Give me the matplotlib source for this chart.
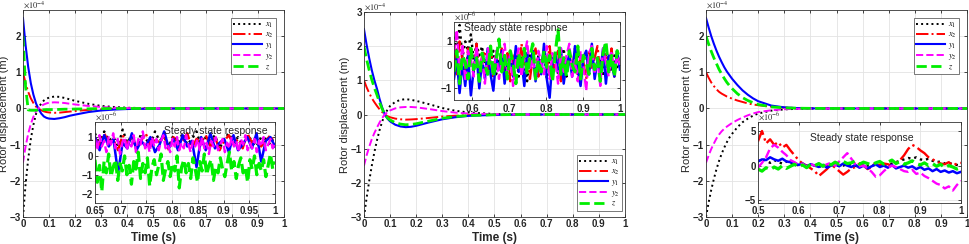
import numpy as np
import matplotlib
matplotlib.use("Agg")
import matplotlib.pyplot as plt

plt.rcParams["font.family"] = ["Liberation Sans", "DejaVu Sans"]
plt.rcParams["mathtext.fontset"] = "stix"

# time samples of the transient curves (s)
t_main = [0, 0.01, 0.02, 0.03, 0.04, 0.05, 0.06, 0.07, 0.08, 0.09, 0.10,
          0.12, 0.14, 0.16, 0.18, 0.20, 0.25, 0.30, 0.35, 0.40, 0.50,
          0.60, 0.80, 1.0]

# panel 1 (x1e-4 m)
p1_x1 = [-3, -2.1, -1.4, -0.85, -0.45, -0.15, 0.02, 0.14, 0.22, 0.27, 0.30,
         0.33, 0.32, 0.29, 0.25, 0.21, 0.13, 0.07, 0.04, 0.02, 0.005, 0, 0, 0]
p1_x2 = [1.0, 0.7, 0.46, 0.28, 0.15, 0.05, -0.01, -0.05, -0.08, -0.10, -0.11,
         -0.12, -0.115, -0.10, -0.085, -0.07, -0.04, -0.022, -0.012, -0.006, -0.002, 0, 0, 0]
p1_y1 = [2.5, 1.75, 1.15, 0.7, 0.38, 0.14, -0.02, -0.14, -0.22, -0.26, -0.28,
         -0.29, -0.27, -0.24, -0.20, -0.17, -0.10, -0.055, -0.03, -0.015, -0.004, 0, 0, 0]
p1_y2 = [-1.5, -1.05, -0.7, -0.43, -0.23, -0.08, 0.01, 0.07, 0.11, 0.14, 0.16,
         0.17, 0.165, 0.15, 0.13, 0.11, 0.07, 0.04, 0.02, 0.01, 0.003, 0, 0, 0]
p1_z = [2.0, 0.6, -0.04, -0.05, -0.05, -0.05, -0.04, -0.04, -0.035, -0.03, -0.03,
        -0.03, -0.025, -0.02, -0.02, -0.015, -0.01, -0.005, 0, 0, 0, 0, 0, 0]

# panel 2 (x1e-4 m)
p2_x1 = [-3, -2.45, -1.95, -1.5, -1.1, -0.75, -0.45, -0.2, 0.0, 0.14, 0.25,
         0.37, 0.43, 0.45, 0.43, 0.40, 0.30, 0.19, 0.11, 0.06, 0.015, 0.003, 0, 0]
p2_x2 = [1.0, 0.8, 0.63, 0.48, 0.36, 0.25, 0.15, 0.07, 0.0, -0.05, -0.08,
         -0.12, -0.14, -0.15, -0.145, -0.135, -0.10, -0.06, -0.035, -0.018, -0.005, 0, 0, 0]
p2_y1 = [2.5, 2.05, 1.65, 1.3, 1.0, 0.75, 0.45, 0.2, 0.0, -0.12, -0.2,
         -0.3, -0.35, -0.37, -0.36, -0.33, -0.23, -0.14, -0.08, -0.04, -0.01, 0, 0, 0]
p2_y2 = [-1.5, -1.2, -0.95, -0.72, -0.54, -0.38, -0.23, -0.1, 0.0, 0.07, 0.12,
         0.18, 0.21, 0.22, 0.22, 0.21, 0.16, 0.10, 0.055, 0.028, 0.008, 0, 0, 0]
p2_z = [2.0, 1.62, 1.3, 1.02, 0.78, 0.57, 0.35, 0.16, 0.0, -0.1, -0.16,
        -0.24, -0.28, -0.30, -0.29, -0.27, -0.19, -0.11, -0.06, -0.03, -0.008, 0, 0, 0]

# panel 3 (x1e-4 m)
p3_x1 = [-3, -2.6, -2.25, -1.95, -1.68, -1.45, -1.25, -1.08, -0.93, -0.8, -0.7,
         -0.52, -0.38, -0.28, -0.2, -0.14, -0.06, -0.025, -0.01, -0.004, 0, 0, 0, 0]
p3_x2 = [1.0, 0.85, 0.72, 0.62, 0.53, 0.46, 0.41, 0.37, 0.33, 0.30, 0.27,
         0.22, 0.18, 0.14, 0.11, 0.09, 0.05, 0.025, 0.012, 0.006, 0, 0, 0, 0]
p3_y1 = [2.5, 2.24, 2.0, 1.79, 1.6, 1.43, 1.28, 1.14, 1.02, 0.92, 0.82,
         0.65, 0.5, 0.38, 0.28, 0.2, 0.08, 0.03, 0.01, 0.003, 0, 0, 0, 0]
p3_y2 = [-1.5, -1.3, -1.12, -0.97, -0.83, -0.72, -0.63, -0.56, -0.5, -0.45, -0.4,
         -0.32, -0.25, -0.19, -0.14, -0.1, -0.05, -0.02, -0.01, -0.004, 0, 0, 0, 0]
p3_z = [2.0, 1.78, 1.58, 1.4, 1.24, 1.08, 0.95, 0.83, 0.72, 0.63, 0.55,
        0.41, 0.3, 0.22, 0.16, 0.11, 0.045, 0.018, 0.007, 0.003, 0, 0, 0, 0]

# steady state samples (x1e-6 m)
s1_x1 = [1.2, 0.6, 1.3, 0.8, 1.0, 0.5, 1.4, 0.7, 1.1, 0.4, 1.2, 0.9, 0.6, 1.3, 0.8, 1.0, 0.5, 1.1, 0.7, 1.2,
         0.6, 0.9, 1.3, 0.5, 1.0, 0.8, 1.1, 0.4, 0.9, 1.2, 0.7, 1.0, 0.6, 1.1, 0.8, 0.5, 1.0, 0.9, 0.6, 1.1]
s1_x2 = [1.0, 0.5, 1.2, 0.7, 0.9, 0.3, 1.1, 0.6, 1.0, 0.4, 0.8, 1.2, 0.5, 0.9, 0.7, 1.1, 0.3, 1.0, 0.6, 0.8,
         1.2, 0.4, 0.9, 0.7, 1.1, 0.5, 1.0, 0.3, 0.8, 1.1, 0.6, 0.9, 0.4, 1.2, 0.7, 1.0, 0.5, 0.8, 1.1, 0.6]
s1_y1 = [1.0, 0.3, 1.1, 0.5, 0.9, -0.9, 0.7, 0.4, 1.2, 0.3, 0.8, 0.5, 1.0, 0.2, 0.6, 1.3, 0.4, 0.9, 0.3, 1.1,
         0.5, 0.8, -0.6, 1.0, 0.3, 1.2, 0.4, 0.7, 0.9, 0.2, 1.1, 0.3, 0.6, 1.0, 0.4, 1.2, -0.3, 0.8, 1.0, 0.5]
s1_y2 = [0.9, 0.3, 1.1, 0.5, 0.8, 0.2, 1.0, 0.6, 1.2, 0.4, 0.9, 0.1, 0.7, 1.0, 0.3, 0.8, 0.5, 1.1, 0.2, 0.9,
         0.6, 1.3, 0.4, 0.7, 0.2, 1.0, 0.5, 0.9, 0.3, 0.8, 1.1, 0.4, 0.6, 0.2, 0.9, 0.5, 1.0, 0.3, 0.7, 0.4,
         1.1, 0.6, 0.2, 0.8, 0.5, 0.9, 0.3, 1.0, 0.4, 0.7, 0.1, 0.8, 0.5, 1.0, 0.3, 0.6, 0.9, 0.2, 0.7, 0.4,
         1.0, 0.5, 0.8, 0.2, 0.9, 0.6, 1.1, 0.3, 0.7, 0.4, 0.9, 0.2, 0.8, 0.5, 1.0, 0.3, 0.6, 0.9, 0.4, 0.7]
s1_z = [-0.2, -1.4, -0.5, -1.9, -0.3, -0.9, 0.1, -1.1, -0.6, -0.2, -1.3, -0.4, -0.8, 0.0, -1.0, -0.5, -1.5, -0.3, -0.7, 0.2,
        -1.2, -0.4, -0.9, -0.1, -1.6, -0.6, -0.2, -1.0, -0.5, 0.1, -1.3, -0.7, -0.3, -1.1, -0.4, -0.8, 0.0, -1.7, -0.6, -0.2,
        -0.9, -0.4, -1.2, -0.1, -0.7, -1.4, -0.3, -0.8, 0.1, -1.0, -0.5, -0.2, -1.3, -0.6, -0.9, -0.1, -0.7, -1.1, -0.4, 0.2,
        -0.8, -0.3, -1.2, -0.5, -0.1, -0.9, -0.6, -1.4, -0.2, -0.7, 0.0, -1.0, -0.4, -0.8, -0.2, -1.1, -0.5, 0.1, -0.7, -0.3]

s2_x1 = [1.2, 0.5, 1.7, 0.3, 1.0, 0.6, 1.3, 0.2, 0.9, 0.4, 0.8, -0.3, 0.5, 0.1, 0.6, -0.4, 0.3, 0.5, -0.6, 0.2,
         0.4, -0.2, 0.6, -0.5, 0.3, 0.1, -0.7, 0.5, 0.2, -0.3, 0.4, -0.1, 0.6, -0.6, 0.3, 0.0, 0.5, -0.4, 0.2, 0.7,
         -0.5, 0.3, 0.1, -0.3, 0.5, -0.6, 0.2, 0.4, -0.2, 0.6, -0.4, 0.1, 0.3, -0.5, 0.5, 0.0, -0.3, 0.4, -0.1, 0.2]
s2_x2 = [0.8, -0.4, 1.0, 0.2, -0.6, 0.7, 0.1, -0.3, 0.9, -0.5, 0.4, 0.6, -0.2, 0.8, -0.6, 0.3, 0.0, 0.7, -0.4, 0.5,
         -0.7, 0.2, 0.6, -0.3, 0.9, -0.1, 0.4, -0.6, 0.3, 0.7, -0.5, 0.1, 0.5, -0.2, 0.8, -0.4, 0.2, 0.6, -0.7, 0.3,
         0.0, 0.5, -0.3, 0.7, -0.5, 0.4, 0.1, -0.6, 0.6, -0.2, 0.3, 0.8, -0.4, 0.2, 0.5, -0.3, 0.7, -0.5, 0.4, 0.1]
s2_y1 = [-0.6, 0.3, -1.2, 0.1, -0.9, 0.4, -1.3, -0.2, 0.5, -1.0, 0.2, -0.6, 0.7, -0.4, -1.1, 0.3, -0.2, 0.6, -0.8, 0.1,
         0.4, -0.5, 0.8, -0.3, 0.2, -0.9, 0.5, -0.1, 0.6, -0.7, 0.3, -0.4, 0.9, -0.6, -1.4, 0.2, 0.5, -0.3, 0.7, -0.8,
         0.1, 0.4, -0.5, 0.8, -0.2, -0.9, 0.3, 0.6, -0.4, 0.9, -0.6, 0.2, -0.3, 0.7, -0.8, 0.4, 0.1, -0.5, 0.6, -0.2]
s2_y2 = [0.5, 1.5, -0.4, 0.9, -0.7, 0.6, 0.2, -0.5, 0.8, -0.2, 0.4, -0.8, 0.7, 0.1, -0.4, 0.6, -0.6, 0.3, 0.9, -0.3,
         0.5, -0.9, 0.2, 0.7, -0.5, 0.4, 1.0, -0.2, 0.3, -0.7, 0.6, 0.1, -0.4, 0.8, -0.6, 0.5, 0.2, -0.8, 0.7, -0.3,
         0.4, 0.9, -0.5, 0.2, -0.7, 0.6, 0.0, -1.1, 0.5, 0.8, -0.4, 0.3, -0.9, 0.7, 0.1, -0.5, 0.6, -0.3, 0.4, 0.0]
s2_z = [-0.3, 0.6, -0.8, 0.4, 0.1, -0.6, 0.7, -0.2, 0.3, -0.7, 0.5, 0.0, -0.4, 0.8, -0.5, 0.2, 1.1, -0.3, 0.4, -0.6,
        0.6, 0.1, -0.8, 0.5, -0.2, 0.7, -0.4, 0.3, 0.9, -0.6, 0.2, -0.3, 0.6, -0.1, 0.4, -0.7, 0.5, 1.5, -0.4, 0.3,
        -0.5, 0.6, 0.0, -0.3, 0.8, -0.6, 0.4, 0.1, -0.4, 0.7, -0.2, 0.3, -0.7, 0.5, 1.0, -0.3, 0.4, -0.5, 0.6, 0.2]

s3_x1 = [0.6, 1.0, 0.7, 0.4, 0.8, 0.5, 0.3, 0.6, 0.2, 0.4, 0.0, 0.2, -0.1, 0.1, 0.0, -0.2, 0.1, 0.0, 0.2, -0.1,
         0.1, 0.0, 0.3, 0.1, 0.0, -0.2, 0.1, 0.0, 0.2, -0.1, 0.0, 0.2, 0.1, 0.3, 0.5, 0.7, 0.9, 1.1, 1.0, 1.2,
         0.9, 0.8, 1.0, 0.7, 0.5, 0.6, 0.3, 0.4, 0.2, 0.1, 0.0]
s3_x2 = [3.5, 5.0, 3.2, 3.8, 3.0, 3.4, 2.6, 3.0, 2.2, 1.5, 0.8, 0.3, 0.0, -0.4, -0.8, -1.5, -1.0, -0.5, 0.2, -0.3,
         -0.8, -1.3, -0.9, -0.4, -0.2, 0.3, 0.0, -0.5, -0.2, 0.4, 0.1, 0.3, 0.2, 0.0, 0.4, 0.8, 1.5, 2.4, 3.0, 2.7,
         2.2, 1.8, 1.2, 0.9, 0.6, 0.3, 0.2, 0.5, 0.0, 0.3, 0.4]
s3_y1 = [0.6, 0.9, 0.8, 1.2, 0.9, 0.7, 1.0, 0.6, 0.5, 0.4, 0.1, 0.3, -0.1, 0.2, 0.0, -0.2, 0.1, -0.3, 0.0, 0.2,
         -0.1, 0.3, 0.0, -0.2, 0.1, -0.3, 0.0, -0.4, -0.1, 0.2, -0.2, 0.0, -0.3, 0.1, -0.4, -0.2, 0.0, -0.3, -0.1, -0.5,
         -0.2, -0.6, -0.4, -0.8, -0.5, -0.9, -0.7, -1.0, -0.8, -1.1, -0.9]
s3_y2 = [-0.3, 0.4, 1.2, 2.5, 3.0, 2.6, 2.0, 1.5, 0.8, 0.5, 0.1, 0.3, -0.2, 0.2, 0.0, 0.3, -0.1, 0.2, 0.4, 0.0,
         0.6, 1.2, 1.8, 1.0, 0.2, -0.1, 0.0, -0.4, -0.9, -1.6, -1.4, -0.8, -0.3, 0.0, -0.2, -0.5, -0.8, -0.9, -0.6, -1.2,
         -1.0, -1.5, -1.8, -2.2, -2.6, -2.8, -3.3, -3.0, -3.6, -2.8, -2.2]
s3_z = [-0.5, -0.8, -0.3, -0.6, -0.2, -0.5, 0.0, -0.4, -0.1, 0.2, -0.2, 0.1, -0.3, 0.2, 0.0, 0.3, -0.1, 0.4, 0.1, 0.5,
        0.2, 0.6, 0.3, 0.4, 0.7, 0.2, 0.5, 0.3, 0.1, 0.4, 0.6, 0.2, 0.5, 0.8, 0.3, 0.6, 0.2, 0.4, 0.7, 0.3,
        0.1, 0.4, 0.0, 0.3, -0.1, 0.2, -0.3, 0.0, -0.2, -0.5, -0.3]

labels = [r"$x_1$", r"$x_2$", r"$y_1$", r"$y_2$", r"$z$"]
styles = [dict(color="black", ls=":", lw=1.4),
          dict(color="red", ls="-.", lw=1.4),
          dict(color="blue", ls="-", lw=1.5),
          dict(color="magenta", ls="--", lw=1.4),
          dict(color="#00ee00", ls="--", lw=2.0)]

GRID = "#e3e3e3"
AX = "#262626"


def style_axes(ax, size, pad):
    ax.grid(True, color=GRID, lw=0.6)
    ax.set_axisbelow(True)
    for s in ax.spines.values():
        s.set_color("#333333")
        s.set_linewidth(0.6)
    ax.tick_params(direction="in", length=2.5, width=0.6, labelsize=size,
                   colors=AX, top=True, right=True, pad=pad)
    for lab in ax.get_xticklabels() + ax.get_yticklabels():
        lab.set_fontweight("bold")


def panel(rect, ylim, yticks, series, ylab_x, inset_rect, inset_data, inset_xlim,
          inset_ylim, inset_xticks, inset_yticks, text_pos, legend_loc,
          legend_anchor):
    ax = fig.add_axes(rect)
    for ys, st, lab in zip(series, styles, labels):
        ax.plot(t_main, ys, label=lab, **st)
    ax.set_xlim(0, 1)
    ax.set_ylim(*ylim)
    ax.set_xticks(np.round(np.arange(0, 1.01, 0.1), 1))
    ax.set_xticklabels(["0"] + ["%.1f" % v for v in np.arange(0.1, 0.95, 0.1)] + ["1"])
    ax.set_yticks(yticks)
    style_axes(ax, 7, 1.5)
    ax.set_xlabel("Time (s)", fontsize=8.5, fontweight="bold", color=AX, labelpad=2)
    ax.set_ylabel("Rotor displacement (m)", fontsize=8, color=AX)
    ax.yaxis.set_label_coords(ylab_x, 0.5)
    ax.text(0.0, 1.0, r"$\times10^{-4}$", transform=ax.transAxes,
            fontsize=6, color=AX, va="bottom", ha="left")
    leg = ax.legend(loc=legend_loc, bbox_to_anchor=legend_anchor, fontsize=6,
                    handlelength=3.4, labelspacing=0.12, borderpad=0.3,
                    handletextpad=0.4, fancybox=False, framealpha=1,
                    edgecolor="#444444", borderaxespad=0.0)
    leg.get_frame().set_linewidth(0.5)

    ia = fig.add_axes(inset_rect)
    for ys, st in zip(inset_data, styles):
        ts = np.linspace(inset_xlim[0], 1.0, len(ys))
        ia.plot(ts, ys, color=st["color"], ls=st["ls"], lw=st["lw"] + 0.3)
    ia.set_xlim(*inset_xlim)
    ia.set_ylim(*inset_ylim)
    ia.set_xticks(inset_xticks)
    ia.set_xticklabels([("%g" % v) for v in inset_xticks])
    ia.set_yticks(inset_yticks)
    style_axes(ia, 7, 1.5)
    ia.tick_params(axis="x", pad=2.5)
    ia.text(0.0, 1.0, r"$\times10^{-6}$", transform=ia.transAxes,
            fontsize=6, color=AX, va="bottom", ha="left")
    ia.text(text_pos[0], text_pos[1], "Steady state response", transform=ia.transAxes,
            fontsize=7.5, color=AX, ha="center", va="center")
    return ax, ia


fig = plt.figure(figsize=(9.69, 2.44), dpi=100)

panel([0.0237, 0.1107, 0.2694, 0.848], (-3, 2.72), [-3, -2, -1, 0, 1, 2],
      [p1_x1, p1_x2, p1_y1, p1_y2, p1_z], -0.052,
      [0.098, 0.168, 0.1858, 0.332],
      [s1_x1, s1_x2, s1_y1, s1_y2, s1_z], (0.65, 1.0), (-2.5, 1.8),
      [0.65, 0.7, 0.75, 0.8, 0.85, 0.9, 0.95, 1.0], [-2, -1, 0, 1],
      (0.67, 0.89), "upper right", (0.97, 0.96))

panel([0.3756, 0.1107, 0.2694, 0.840], (-3, 3), [-3, -2, -1, 0, 1, 2, 3],
      [p2_x1, p2_x2, p2_y1, p2_y2, p2_z], -0.055,
      [0.4685, 0.590, 0.1713, 0.320],
      [s2_x1, s2_x2, s2_y1, s2_y2, s2_z], (0.55, 1.0), (-1.5, 1.83),
      [0.6, 0.7, 0.8, 0.9, 1.0], [-1, 0, 1],
      (0.37, 0.92), "lower right", (0.99, 0.03))

panel([0.7286, 0.1107, 0.2694, 0.848], (-3, 2.72), [-3, -2, -1, 0, 1, 2],
      [p3_x1, p3_x2, p3_y1, p3_y2, p3_z], -0.055,
      [0.7822, 0.168, 0.2095, 0.332],
      [s3_x1, s3_x2, s3_y1, s3_y2, s3_z], (0.5, 1.0), (-5.4, 6.3),
      [0.5, 0.6, 0.7, 0.8, 0.9, 1.0], [-5, 0, 5],
      (0.51, 0.8), "upper right", (0.97, 0.96))

fig.savefig("out.png", dpi=100)
